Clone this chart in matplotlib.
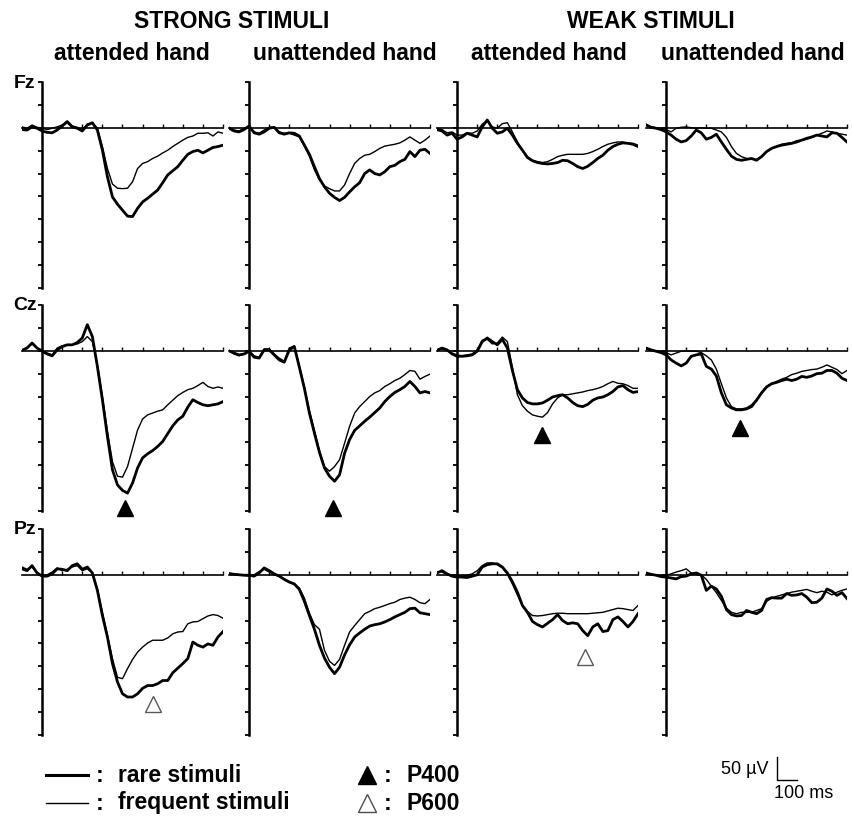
import numpy as np
import matplotlib.pyplot as plt
from matplotlib.lines import Line2D

plt.rcParams['font.family'] = ['Liberation Sans', 'DejaVu Sans']

# sampling grid of the averaged waveforms (ms)
time_ms = np.arange(-100, 901, 25)

# amplitudes in µV, positive plotted downward
# ---- Fz ----
fz_strong_att_rare = [4, 5, -2, 1, 7, 10, 11, 5, -4, -13, -2, 1, 7, -6, -11, 5, 49, 107, 151, 167, 180,
                      193, 194, 176, 162, 154, 145, 136, 120, 103, 94, 85, 71, 58, 52, 49, 55, 49, 43, 41, 38]
fz_strong_att_freq = [-2, 1, -6, -1, 1, 4, 1, -2, -6, -15, -4, -1, 5, -8, -11, 1, 41, 89, 123, 132, 133,
                      132, 118, 89, 78, 74, 67, 62, 55, 49, 41, 34, 27, 21, 18, 12, 12, 11, 18, 9, 12]
fz_strong_unatt_rare = [1, 7, 9, 4, -4, 11, 14, 9, 1, -1, 11, 14, 11, 12, 18, 38, 58, 85, 111, 129, 143,
                        152, 159, 152, 140, 129, 120, 100, 92, 100, 103, 96, 85, 82, 74, 69, 52, 63, 49, 47, 56]
fz_strong_unatt_freq = [-1, 5, 7, 1, -2, 9, 12, 5, -1, -2, 9, 12, 12, 16, 20, 40, 62, 92, 114, 127, 133,
                        138, 138, 125, 100, 78, 67, 60, 58, 52, 45, 40, 38, 36, 33, 27, 20, 27, 34, 27, 18]
fz_weak_att_rare = [4, 7, 16, 12, 25, 20, 12, 16, 20, -2, -17, 1, 12, 9, 1, 16, 34, 49, 65, 72, 76,
                    78, 79, 78, 76, 71, 72, 78, 85, 89, 84, 76, 67, 60, 49, 41, 36, 33, 34, 36, 41]
fz_weak_att_freq = [1, 4, 11, 9, 16, 16, 11, 12, 7, -8, -15, -2, 1, -9, -11, 9, 31, 49, 63, 71, 74,
                    76, 74, 69, 63, 60, 58, 58, 58, 58, 56, 52, 47, 41, 36, 33, 31, 31, 34, 34, 38]
fz_weak_unatt_rare = [-6, -1, 1, 4, 9, 16, 25, 31, 28, 18, 5, 11, 25, 21, 14, 31, 47, 62, 69, 71, 69,
                      67, 71, 63, 52, 45, 41, 38, 36, 34, 31, 27, 23, 20, 16, 18, 20, 11, 12, 21, 31]
fz_weak_unatt_freq = [-8, -2, 0, 1, 4, 9, 1, -1, -2, 0, 1, 0, 1, 1, 5, 9, 21, 41, 56, 63, 67,
                      69, 69, 63, 52, 45, 40, 36, 34, 33, 28, 27, 25, 21, 16, 12, 7, 9, 12, 14, 16]

# ---- Cz ----
cz_strong_att_rare = [-1, -6, -17, -6, 1, 7, 11, -2, -9, -13, -13, -18, -28, -57, -31, 34, 107, 187, 260, 293, 305,
                      311, 289, 256, 234, 225, 218, 209, 198, 181, 164, 151, 143, 123, 107, 113, 118, 120, 118, 116, 111]
cz_strong_att_freq = [-1, -6, -15, -6, -1, 5, 9, -6, -11, -13, -13, -15, -20, -31, -20, 31, 100, 176, 242, 274, 276,
                      253, 213, 173, 149, 140, 136, 132, 129, 118, 108, 98, 91, 85, 82, 76, 69, 78, 82, 79, 82]
cz_strong_unatt_rare = [0, 5, 9, 7, 1, 14, 16, -2, -2, 9, 20, 25, -2, -9, 36, 82, 136, 180, 222, 256, 274,
                        285, 271, 224, 194, 174, 164, 154, 145, 135, 125, 111, 100, 91, 85, 78, 67, 78, 92, 89, 92]
cz_strong_unatt_freq = [0, 7, 11, 7, 1, 11, 14, -4, -4, 7, 16, 23, -6, -11, 33, 79, 131, 174, 218, 253, 263,
                        253, 238, 202, 165, 136, 122, 111, 100, 92, 87, 78, 72, 65, 60, 52, 43, 45, 62, 56, 51]
cz_weak_att_rare = [-1, -6, -2, 7, 12, 12, 11, 9, 1, -20, -28, -20, -13, -25, -6, 43, 85, 103, 113, 116, 116,
                    114, 108, 101, 98, 96, 103, 113, 120, 122, 117, 108, 103, 101, 96, 89, 79, 76, 85, 91, 89]
cz_weak_att_freq = [-2, -4, -1, 5, 9, 11, 9, 7, -2, -23, -25, -15, -17, -30, -20, 36, 96, 120, 132, 140, 143,
                    145, 135, 116, 103, 96, 96, 94, 92, 90, 87, 85, 82, 78, 72, 67, 71, 72, 76, 82, 82]
cz_weak_unatt_rare = [-6, -2, 1, 4, 9, 20, 27, 33, 27, 12, 9, 7, 34, 40, 55, 92, 118, 125, 129, 129, 127,
                      122, 108, 92, 79, 72, 69, 65, 62, 65, 62, 56, 58, 55, 50, 49, 43, 43, 49, 60, 65]
cz_weak_unatt_freq = [-4, -1, 1, 1, 4, 9, 5, 1, 0, 1, 1, 4, 11, 20, 40, 72, 103, 122, 127, 127, 125,
                      118, 107, 91, 78, 72, 67, 62, 58, 52, 49, 45, 43, 41, 40, 36, 31, 36, 41, 50, 43]

# ---- Pz ----
pz_strong_att_rare = [-13, -9, -20, -4, 3, 3, -2, -13, -12, -9, -20, -24, -12, -17, -4, 34, 89, 136, 194, 234, 260,
                      267, 267, 260, 248, 242, 242, 238, 231, 231, 214, 204, 194, 183, 147, 154, 158, 151, 154, 136, 124]
pz_strong_att_freq = [-17, -12, -17, -4, 1, 0, -6, -15, -9, -12, -17, -20, -9, -13, -4, 31, 82, 132, 183, 224, 227,
                      205, 185, 169, 158, 149, 143, 143, 143, 138, 129, 125, 124, 107, 103, 102, 96, 90, 87, 89, 95]
pz_strong_unatt_rare = [-2, -1, 0, 1, 1, 3, -4, -15, -9, -2, 3, 10, 16, 20, 32, 58, 89, 119, 154, 182, 202,
                        216, 202, 175, 153, 136, 127, 119, 112, 109, 107, 103, 98, 92, 87, 82, 74, 73, 83, 85, 87]
pz_strong_unatt_freq = [-4, -2, 0, 1, 3, 0, -7, -12, -6, 0, 3, 9, 15, 20, 29, 51, 84, 109, 119, 165, 189,
                        198, 185, 154, 125, 111, 98, 85, 80, 74, 71, 67, 63, 60, 54, 51, 49, 54, 61, 63, 54]
pz_weak_att_rare = [-4, -9, -2, 3, 5, 5, 6, 3, 0, -17, -22, -24, -24, -17, -4, 15, 38, 67, 82, 102, 109,
                    114, 106, 98, 87, 100, 107, 105, 107, 122, 133, 114, 107, 124, 122, 98, 92, 102, 114, 102, 85]
pz_weak_att_freq = [-7, -6, 0, 1, 1, 3, 1, -2, -9, -20, -26, -26, -22, -15, -2, 20, 44, 67, 80, 89, 90,
                    89, 87, 85, 84, 84, 85, 85, 85, 85, 85, 84, 83, 82, 79, 76, 73, 74, 76, 78, 67]
pz_weak_unatt_rare = [-4, -1, 1, 4, 5, 7, 9, 4, 3, -2, -4, 1, 34, 25, 31, 47, 76, 87, 90, 89, 78,
                      82, 85, 78, 54, 50, 51, 51, 41, 45, 44, 41, 49, 61, 60, 51, 31, 36, 45, 39, 52]
pz_weak_unatt_freq = [-2, 0, 1, 3, 1, -2, -6, -9, -13, -4, 0, 0, 10, 25, 39, 56, 73, 82, 85, 82, 82,
                      82, 78, 74, 58, 51, 47, 44, 41, 38, 36, 34, 32, 36, 39, 36, 38, 44, 38, 34, 31]

electrodes = ['Fz', 'Cz', 'Pz']
conditions = ['attended hand', 'unattended hand', 'attended hand', 'unattended hand']
groups = ['STRONG STIMULI', 'WEAK STIMULI']

rare = [
    [fz_strong_att_rare, fz_strong_unatt_rare, fz_weak_att_rare, fz_weak_unatt_rare],
    [cz_strong_att_rare, cz_strong_unatt_rare, cz_weak_att_rare, cz_weak_unatt_rare],
    [pz_strong_att_rare, pz_strong_unatt_rare, pz_weak_att_rare, pz_weak_unatt_rare],
]
frequent = [
    [fz_strong_att_freq, fz_strong_unatt_freq, fz_weak_att_freq, fz_weak_unatt_freq],
    [cz_strong_att_freq, cz_strong_unatt_freq, cz_weak_att_freq, cz_weak_unatt_freq],
    [pz_strong_att_freq, pz_strong_unatt_freq, pz_weak_att_freq, pz_weak_unatt_freq],
]

# component markers: (row, col, latency ms, amplitude µV)
p400_marks = [(1, 0, 413, 343), (1, 1, 416, 343), (1, 2, 424, 183), (1, 3, 368, 168)]
p600_marks = [(2, 0, 552, 282), (2, 2, 638, 179)]

W, H = 853, 816
fig = plt.figure(figsize=(W / 100, H / 100), dpi=100)


def px_axes(left, top, width, height):
    return fig.add_axes([left / W, 1 - (top + height) / H, width / W, height / H])


def px_text(x, y, s, **kw):
    fig.text(x / W, 1 - y / H, s, **kw)


col_left = [22, 229, 437, 646]
row_top = [82, 305, 529]
axes = {}

for r in range(3):
    for c in range(4):
        ax = px_axes(col_left[c], row_top[r], 201, 206)
        ax.patch.set_visible(False)
        ax.plot(time_ms, frequent[r][c], color='black', lw=1.0)
        ax.plot(time_ms, rare[r][c], color='black', lw=2.0)
        ax.set_xlim(-100, 900)
        ax.set_ylim(350, -100)
        ax.spines['top'].set_visible(False)
        ax.spines['right'].set_visible(False)
        ax.spines['left'].set_position(('data', 0))
        ax.spines['bottom'].set_position(('data', 0))
        ax.spines['left'].set_linewidth(1.8)
        ax.spines['bottom'].set_linewidth(1.2)
        ax.set_yticks(np.arange(-100, 351, 50))
        ax.set_xticks(np.arange(100, 901, 100))
        ax.set_xticklabels([])
        ax.set_yticklabels([])
        ax.tick_params(axis='y', direction='out', length=3, width=1.3)
        ax.tick_params(axis='x', direction='in', length=3, width=1.0)
        axes[(r, c)] = ax

for r, c, t, v in p400_marks:
    axes[(r, c)].plot(t, v, marker='^', ms=11, color='black', clip_on=False)
for r, c, t, v in p600_marks:
    axes[(r, c)].plot(t, v, marker='^', ms=11, mfc='white', mec='0.35', mew=1.0, clip_on=False)

# headings
bold = dict(fontweight='bold', fontsize=16.5, va='center')
px_text(232, 22, groups[0], ha='center', **bold)
px_text(651, 22, groups[1], ha='center', **bold)
for x, s in zip([132, 345, 549, 753], conditions):
    px_text(x, 54, s, ha='center', **bold)
for y, s in zip([83, 306, 529], electrodes):
    px_text(25, y, s, ha='center', fontweight='bold', fontsize=14, va='center')

# legend
for y, lw, label in [(775, 2.2, 'rare stimuli'), (803, 1.0, 'frequent stimuli')]:
    fig.add_artist(Line2D([46 / W, 88 / W], [1 - y / H, 1 - y / H], lw=lw, color='black'))
    px_text(100, y, ':', ha='center', **bold)
    px_text(118, y, label, ha='left', **bold)

fig.add_artist(Line2D([367 / W], [1 - 775 / H], marker='^', ms=13, color='black', lw=0))
fig.add_artist(Line2D([367 / W], [1 - 803 / H], marker='^', ms=13, mfc='white', mec='0.3', mew=1.0, lw=0))
px_text(388, 775, ':', ha='center', **bold)
px_text(388, 803, ':', ha='center', **bold)
px_text(407, 775, 'P400', ha='left', **bold)
px_text(407, 803, 'P600', ha='left', **bold)

# calibration bar, same scale as the panels
sax = px_axes(777, 780 - 206 * 50 / 450, 201 * 100 / 1000, 206 * 50 / 450)
sax.plot([0, 0, 100], [50, 0, 0], color='black', lw=1.0, clip_on=False)
sax.set_xlim(0, 100)
sax.set_ylim(0, 50)
sax.axis('off')
px_text(769, 770, '50 µV', ha='right', fontsize=13, va='center')
px_text(774, 793, '100 ms', ha='left', fontsize=13, va='center')

fig.savefig('out.png', dpi=100, facecolor='white')
